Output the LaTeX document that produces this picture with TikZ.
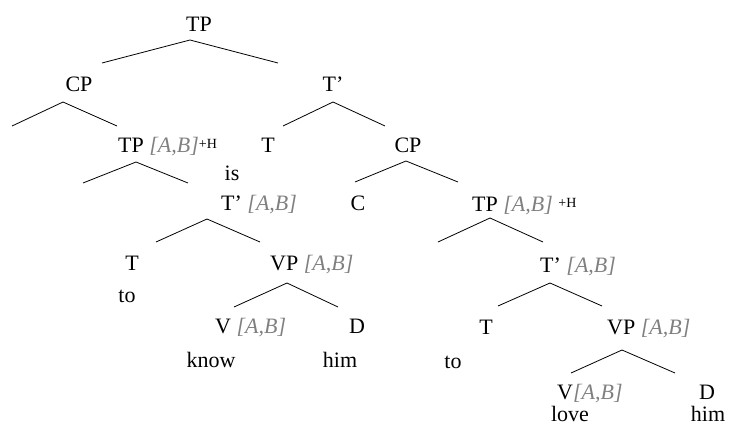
\documentclass[tikz,border=0pt]{standalone}
\usepackage{fontspec}
\setmainfont{Liberation Serif}
\usetikzlibrary{positioning}

\newcommand{\ab}{{\color{gray}\itshape [A,B]}}
\newcommand{\plush}{\raisebox{4pt}{\fontsize{14}{14}\selectfont +H}}

\begin{document}
\begin{tikzpicture}[
    x=1pt, y=-1pt,
    cat/.style={inner sep=0pt, anchor=base, font=\fontsize{22}{26}\selectfont},
    catl/.style={cat, anchor=base west},
    branch/.style={line width=0.8pt}
]
    \useasboundingbox (0,0) rectangle (733,428);

    % Labels, upper part
    \node[cat] (tp) at (199,32) {TP};
    \node[cat] (cp) at (79,91) {CP};
    \node[cat] (tbar) at (333,91) {T'};
    \node[catl] (tpab) at (118,152) {TP \ab\plush};
    \node[cat] (tmid) at (268,152) {T};
    \node[cat] (is) at (232,180) {is};
    \node[catl] (tbarab) at (221,210) {T' \ab};
    \node[cat] (c) at (358,210) {C};
    \node[cat] (cpr) at (408,152) {CP};
    \node[catl] (tpabr) at (472,211) {TP \ab\ \plush};
    \node[catl] (tbarabr) at (540,272) {T' \ab};

    % Left subtree
    \node[cat] (tl) at (132,270) {T};
    \node[catl] (vpl) at (270,270) {VP \ab};
    \node[cat] (tol) at (127,302) {to};
    \node[catl] (vl) at (215,333) {V \ab};
    \node[cat] (dl) at (357,333) {D};
    \node[cat] (know) at (211,367) {know};
    \node[cat] (himl) at (340,367) {him};

    % Right subtree
    \node[cat] (tr) at (486,334) {T};
    \node[catl] (vpr) at (607,334) {VP \ab};
    \node[cat] (tor) at (453,368) {to};
    \node[catl] (vr) at (557,399) {V\ab};
    \node[cat] (dr) at (707,399) {D};
    \node[cat] (love) at (570,421) {love};
    \node[cat] (himr) at (708,421) {him};

    % Branch points
    \coordinate (a1) at (190,40);  \coordinate (l1) at (102,63);  \coordinate (r1) at (278,63);
    \coordinate (a2) at (63,102);  \coordinate (l2) at (12,126);  \coordinate (r2) at (117,126);
    \coordinate (a3) at (333,102); \coordinate (l3) at (283,126); \coordinate (r3) at (385,126);
    \coordinate (a4) at (136,162); \coordinate (l4) at (83,183);  \coordinate (r4) at (188,183);
    \coordinate (a5) at (406,161); \coordinate (l5) at (355,182); \coordinate (r5) at (458,182);
    \coordinate (a6) at (490,218); \coordinate (l6) at (438,242); \coordinate (r6) at (543,242);
    \coordinate (a7) at (207,219); \coordinate (l7) at (156,242); \coordinate (r7) at (260,242);
    \coordinate (a8) at (550,283); \coordinate (l8) at (498,306); \coordinate (r8) at (602,306);
    \coordinate (a9) at (287,283); \coordinate (l9) at (234,307); \coordinate (r9) at (338,307);
    \coordinate (a10) at (622,350); \coordinate (l10) at (571,373); \coordinate (r10) at (675,373);

    \foreach \i in {1,...,10}
        \draw[branch] (l\i) -- (a\i) -- (r\i);
\end{tikzpicture}
\end{document}
